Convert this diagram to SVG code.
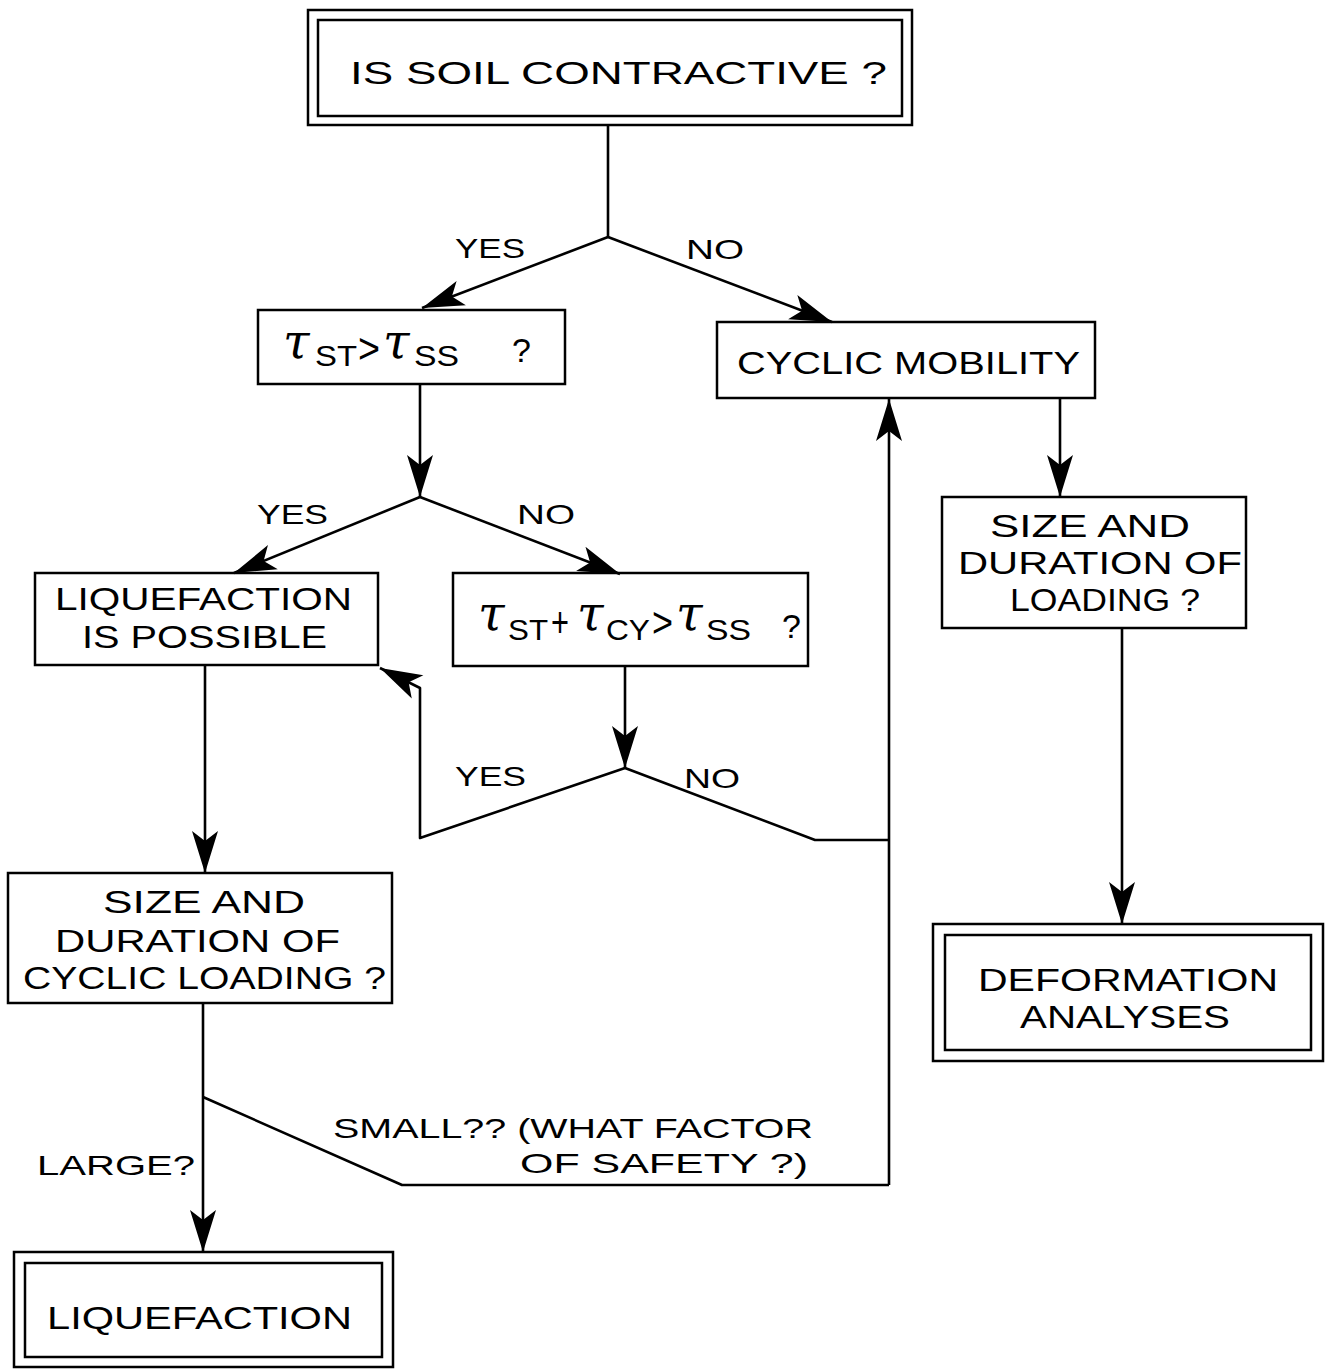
<svg xmlns="http://www.w3.org/2000/svg" width="1335" height="1369" viewBox="0 0 1335 1369">
<style>
.box{fill:none;stroke:#000;stroke-width:2.5}
.ln{fill:none;stroke:#000;stroke-width:2.6;stroke-linejoin:round}
.ar{marker-end:url(#ah)}
.t{font-family:"Liberation Sans",Arial,sans-serif;font-size:31px;fill:#000}
.l{font-family:"Liberation Sans",Arial,sans-serif;font-size:28px;fill:#000}
.tau{font-family:"DejaVu Serif",serif;font-style:italic;font-size:48px}
.sub{font-family:"Liberation Sans",Arial,sans-serif;font-size:29px}
.op{font-family:"Liberation Sans",Arial,sans-serif;font-size:42px}
.q{font-family:"Liberation Sans",Arial,sans-serif;font-size:34px}
</style>
<defs>
<marker id="ah" markerUnits="userSpaceOnUse" viewBox="-44 -15 46 30" markerWidth="46" markerHeight="30" refX="0" refY="0" orient="auto">
<path d="M0,0 L-42,-13 L-32,0 L-42,13 Z" fill="#000"/>
</marker>
</defs>
<rect width="1335" height="1369" fill="#fff"/>

<g id="connectors">
<path class="ln" d="M608,125 V237"/>
<path class="ln ar" d="M608,237 L422,308"/>
<path class="ln ar" d="M608,237 L832,322"/>
<path class="ln ar" d="M420,384 V497"/>
<path class="ln ar" d="M420,497 L234,573"/>
<path class="ln ar" d="M420,497 L620,574"/>
<path class="ln ar" d="M625,666 V768"/>
<path class="ln ar" d="M625,768 L420,838 V688 L380,668"/>
<path class="ln" d="M625,768 L815,840 H889"/>
<path class="ln ar" d="M889,1185 V399"/>
<path class="ln ar" d="M205,665 V873"/>
<path class="ln ar" d="M203,1003 V1252"/>
<path class="ln" d="M203,1097 L402,1185 H889"/>
<path class="ln ar" d="M1060,398 V497"/>
<path class="ln ar" d="M1122,628 V924"/>
</g>

<g id="labels">
<text class="l" x="455" y="258" textLength="70" lengthAdjust="spacingAndGlyphs">YES</text>
<text class="l" x="686" y="259" textLength="58" lengthAdjust="spacingAndGlyphs">NO</text>
<text class="l" x="257" y="524" textLength="71" lengthAdjust="spacingAndGlyphs">YES</text>
<text class="l" x="517" y="524" textLength="58" lengthAdjust="spacingAndGlyphs">NO</text>
<text class="l" x="455" y="786" textLength="71" lengthAdjust="spacingAndGlyphs">YES</text>
<text class="l" x="684" y="788" textLength="56" lengthAdjust="spacingAndGlyphs">NO</text>
<text class="l" x="37" y="1175" textLength="158" lengthAdjust="spacingAndGlyphs">LARGE?</text>
<text class="l" x="333" y="1138" textLength="480" lengthAdjust="spacingAndGlyphs">SMALL?? (WHAT FACTOR</text>
<text class="l" x="520" y="1173" textLength="288" lengthAdjust="spacingAndGlyphs">OF SAFETY ?)</text>
</g>

<g id="n1">
<rect class="box" x="308" y="10" width="604" height="115"/>
<rect class="box" x="318" y="20" width="584" height="96"/>
<text class="t" x="350" y="84" textLength="537" lengthAdjust="spacingAndGlyphs">IS SOIL CONTRACTIVE ?</text>
</g>

<g id="n2">
<rect class="box" x="258" y="310" width="307" height="74"/>
<text x="283" y="358" class="tau">τ</text>
<text x="315" y="366" class="sub" textLength="42" lengthAdjust="spacingAndGlyphs">ST</text>
<text x="358" y="363" class="op" textLength="22" lengthAdjust="spacingAndGlyphs">&gt;</text>
<text x="383" y="358" class="tau">τ</text>
<text x="414" y="366" class="sub" textLength="45" lengthAdjust="spacingAndGlyphs">SS</text>
<text x="512" y="362" class="q">?</text>
</g>

<g id="n3">
<rect class="box" x="717" y="322" width="378" height="76"/>
<text class="t" x="737" y="374" textLength="343" lengthAdjust="spacingAndGlyphs">CYCLIC MOBILITY</text>
</g>

<g id="n4">
<rect class="box" x="35" y="573" width="343" height="92"/>
<text class="t" x="55" y="610" textLength="297" lengthAdjust="spacingAndGlyphs">LIQUEFACTION</text>
<text class="t" x="82" y="648" textLength="245" lengthAdjust="spacingAndGlyphs">IS POSSIBLE</text>
</g>

<g id="n5">
<rect class="box" x="453" y="573" width="355" height="93"/>
<text x="478" y="630" class="tau">τ</text>
<text x="508" y="640" class="sub" textLength="40" lengthAdjust="spacingAndGlyphs">ST</text>
<text x="551" y="637" class="op" textLength="18" lengthAdjust="spacingAndGlyphs">+</text>
<text x="577" y="630" class="tau">τ</text>
<text x="606" y="640" class="sub" textLength="44" lengthAdjust="spacingAndGlyphs">CY</text>
<text x="652" y="637" class="op" textLength="21" lengthAdjust="spacingAndGlyphs">&gt;</text>
<text x="676" y="630" class="tau">τ</text>
<text x="706" y="640" class="sub" textLength="45" lengthAdjust="spacingAndGlyphs">SS</text>
<text x="782" y="638" class="q">?</text>
</g>

<g id="n6">
<rect class="box" x="942" y="497" width="304" height="131"/>
<text class="t" x="990" y="537" textLength="200" lengthAdjust="spacingAndGlyphs">SIZE AND</text>
<text class="t" x="958" y="574" textLength="284" lengthAdjust="spacingAndGlyphs">DURATION OF</text>
<text class="t" x="1010" y="611" textLength="190" lengthAdjust="spacingAndGlyphs">LOADING ?</text>
</g>

<g id="n7">
<rect class="box" x="8" y="873" width="384" height="130"/>
<text class="t" x="103" y="913" textLength="202" lengthAdjust="spacingAndGlyphs">SIZE AND</text>
<text class="t" x="55" y="952" textLength="285" lengthAdjust="spacingAndGlyphs">DURATION OF</text>
<text class="t" x="23" y="989" textLength="363" lengthAdjust="spacingAndGlyphs">CYCLIC LOADING ?</text>
</g>

<g id="n8">
<rect class="box" x="933" y="924" width="390" height="137"/>
<rect class="box" x="945" y="935" width="366" height="115"/>
<text class="t" x="978" y="991" textLength="300" lengthAdjust="spacingAndGlyphs">DEFORMATION</text>
<text class="t" x="1020" y="1028" textLength="210" lengthAdjust="spacingAndGlyphs">ANALYSES</text>
</g>

<g id="n9">
<rect class="box" x="14" y="1252" width="379" height="115"/>
<rect class="box" x="25" y="1263" width="357" height="94"/>
<text class="t" x="47" y="1329" textLength="305" lengthAdjust="spacingAndGlyphs">LIQUEFACTION</text>
</g>
</svg>
